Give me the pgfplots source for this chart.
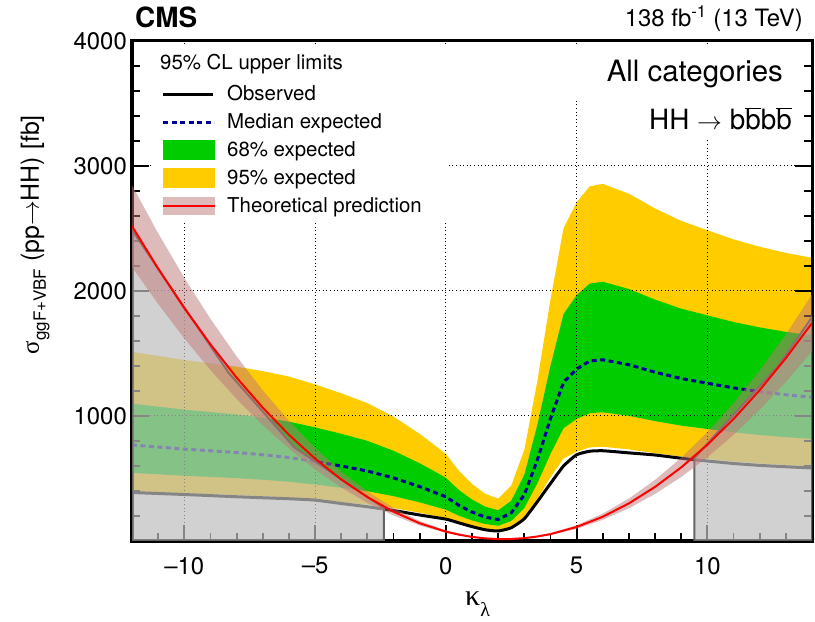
\documentclass[border=0pt]{standalone}
\usepackage{pgfplots}
\pgfplotsset{compat=1.18}
\usepackage{fontspec}
\setmainfont{TeX Gyre Heros}
\newfontfamily\greek{Liberation Serif}
\definecolor{cyellow}{RGB}{255,204,0}
\definecolor{cgreen}{RGB}{0,204,0}
\definecolor{cnavy}{RGB}{0,0,153}
\definecolor{cpink}{RGB}{190,120,120}
\definecolor{cpinkL}{RGB}{222,187,187}
\definecolor{cgray}{RGB}{190,190,190}
\definecolor{cgrayD}{RGB}{100,100,100}
\pgfplotsset{common/.style={
  at={(0,0)}, anchor=south west,
  scale only axis, width=680bp, height=500bp,
  xmin=-12, xmax=14, ymin=0, ymax=4000, clip=true}}
\begin{document}
\begin{tikzpicture}
\path[use as bounding box] (-132bp,-81bp) rectangle (683bp,541bp);
\begin{axis}[common,
  axis on top,
  xtick={-10,-5,0,5,10},
  xticklabels={\textendash10,\textendash5,0,5,10},
  ytick={0,1000,2000,3000,4000},
  yticklabels={,1000,2000,3000,4000},
  xtick pos=left, ytick pos=left,
  tick align=inside,
  major tick length=16bp,
  tick style={draw=black, line width=1.6bp},
  grid=major,
  major grid style={black, line width=1bp, dash pattern=on 1bp off 2.6bp},
  tick label style={font=\fontsize{24}{24}\selectfont},
  xticklabel style={anchor=north, inner sep=0pt, yshift=-16bp},
  yticklabel style={anchor=east, inner sep=0pt, xshift=-5bp},
  scaled y ticks=false,
]
% 95% band
\addplot[fill=cyellow, draw=none] coordinates {
(-12,1513)(-11,1481)(-10,1448)(-9,1422)(-8,1395)(-7,1359)(-6,1316)(-5,1253)(-4,1182)(-3,1103)(-2,995)(-1,857)(-0.5,778)(0,697)(0.5,561)(1,457)(1.5,378)(2,339)(2.5,443)(3,729)(3.5,1281)(4,1931)(4.5,2502)(5,2709)(5.5,2837)(6,2857)(7,2778)(8,2660)(9,2561)(10,2486)(11,2413)(12,2354)(13,2305)(14,2266)
(14,598)(13,608)(12,621)(11,637)(10,656)(9,676)(8,702)(7,733)(6,754)(5.5,749)(5,715)(4.5,660)(4,510)(3.5,338)(3,192)(2.5,117)(2,89)(1.5,100)(1,121)(0.5,148)(0,184)(-0.5,205)(-1,226)(-2,263)(-3,291)(-4,312)(-5,331)(-6,347)(-7,359)(-8,368)(-9,375)(-10,382)(-11,391)(-12,399)
};
% 68% band
\addplot[fill=cgreen, draw=none] coordinates {
(-12,1098)(-11,1075)(-10,1051)(-9,1032)(-8,1012)(-7,987)(-6,955)(-5,909)(-4,858)(-3,801)(-2,722)(-1,622)(-0.5,565)(0,506)(0.5,408)(1,332)(1.5,275)(2,246)(2.5,322)(3,529)(3.5,930)(4,1401)(4.5,1816)(5,1966)(5.5,2059)(6,2074)(7,2016)(8,1931)(9,1859)(10,1805)(11,1752)(12,1709)(13,1673)(14,1645)
(14,817)(13,831)(12,848)(11,870)(10,896)(9,923)(8,959)(7,1001)(6,1030)(5.5,1022)(5,976)(4.5,902)(4,696)(3.5,462)(3,263)(2.5,160)(2,122)(1.5,136)(1,165)(0.5,202)(0,251)(-0.5,280)(-1,309)(-2,359)(-3,398)(-4,426)(-5,452)(-6,474)(-7,490)(-8,503)(-9,513)(-10,522)(-11,534)(-12,545)
};
% median expected
\addplot[cnavy, line width=3bp, dash pattern=on 5bp off 3.5bp] coordinates {
(-12,768)(-11,752)(-10,735)(-9,722)(-8,708)(-7,690)(-6,668)(-5,636)(-4,600)(-3,560)(-2,505)(-1,435)(-0.5,395)(0,354)(0.5,285)(1,232)(1.5,192)(2,172)(2.5,225)(3,370)(3.5,650)(4,980)(4.5,1270)(5,1375)(5.5,1440)(6,1450)(7,1410)(8,1350)(9,1300)(10,1262)(11,1225)(12,1195)(13,1170)(14,1150)
};
% observed
\addplot[black, line width=3bp, smooth, tension=0.3] coordinates {
(-12,388)(-11,380)(-10,372)(-9,363)(-8,354)(-7,346)(-6,338)(-5,327)(-4,300)(-3,274)(-2,244)(-1,208)(0,175)(0.5,145)(1,115)(1.5,90)(2,80)(2.5,106)(3,178)(3.5,315)(4,460)(4.5,600)(5,690)(5.5,718)(6,722)(7,705)(8,688)(9,662)(10,640)(11,620)(12,605)(13,594)(14,584)
};
\end{axis}
% frame and tick marks (inside)
\begin{scope}[line width=1.8bp, black]
\foreach \k in {-11,...,13} \draw ({(\k+12)*26.1538bp},0pt) -- ++(0,8bp);
\foreach \k in {-10,-5,0,5,10} \draw ({(\k+12)*26.1538bp},0pt) -- ++(0,16bp);
\foreach \j in {1,...,19} {\draw (0pt,{\j*25bp}) -- ++(8bp,0); \draw (680bp,{\j*25bp}) -- ++(-8bp,0);}
\foreach \j in {5,10,15} {\draw (0pt,{\j*25bp}) -- ++(17bp,0); \draw (680bp,{\j*25bp}) -- ++(-17bp,0);}
\end{scope}
\draw[black, line width=3bp] (0,0) rectangle (680bp,500bp);
% legend
\fill[white] (20bp,319bp) rectangle (315bp,495bp);
\begin{scope}[every node/.style={anchor=base west, inner sep=0pt, font=\fontsize{20.5}{21}\selectfont}]
\node at (28bp,471bp) {95\% CL upper limits};
\draw[black, line width=3bp] (31bp,446bp) -- (81bp,446bp);
\node at (95bp,440bp) {Observed};
\draw[cnavy, line width=3bp, dash pattern=on 5bp off 3.5bp] (31bp,418bp) -- (82bp,418bp);
\node at (95bp,412bp) {Median expected};
\fill[cgreen] (31bp,381bp) rectangle (83bp,401bp);
\node at (95bp,384bp) {68\% expected};
\fill[cyellow] (31bp,353bp) rectangle (83bp,373bp);
\node at (95bp,356bp) {95\% expected};
\fill[cpinkL] (31bp,326bp) rectangle (83bp,344bp);
\draw[red, line width=2bp] (31bp,335bp) -- (83bp,335bp);
\node at (95bp,328bp) {Theoretical prediction};
\end{scope}
% top right labels
\fill[white] (428bp,441bp) rectangle (660bp,497bp);
\fill[white] (468bp,401bp) rectangle (660bp,441bp);
\node[anchor=base east, inner sep=0pt, font=\fontsize{29.5}{30}\selectfont] at (651bp,459bp) {All categories};
\node[anchor=base east, inner sep=0pt, font=\fontsize{28}{28}\selectfont] at (660bp,411bp) {HH $\rightarrow$ b$\overline{\mbox{b}}$b$\overline{\mbox{b}}$};
% overlay axis: excluded regions and theory
\begin{axis}[common, hide axis]
\addplot[fill=cgray, fill opacity=0.7, draw=cgrayD, line width=2bp] coordinates {
(-12,0)(-12,2488)(-8.3,1344)(-5.8,750)(-2.37,264)(-2.37,0)(-12,0)};
\addplot[fill=cgray, fill opacity=0.7, draw=cgrayD, line width=2bp] coordinates {
(9.5,0)(9.5,664)(12.7,1400)(14,1790)(14,0)(9.5,0)};
\addplot[fill=cpink, fill opacity=0.5, draw=none] coordinates {
(-12,2846)(-11,2462)(-10,2105)(-9,1777)(-8,1477)(-7,1205)(-6,961)(-5,745)(-4,556)(-3,397)(-2,264)(-1,160)(0,85)(1,37)(2,17)(3,26)(4,62)(5,127)(6,219)(7,340)(8,489)(9,666)(10,870)(11,1103)(12,1364)(13,1653)(14,1971)
(14,1517)(13,1273)(12,1050)(11,849)(10,670)(9,512)(8,377)(7,262)(6,169)(5,97)(4,48)(3,20)(2,13)(1,28)(0,65)(-1,124)(-2,204)(-3,305)(-4,428)(-5,573)(-6,740)(-7,927)(-8,1137)(-9,1368)(-10,1621)(-11,1896)(-12,2192)
};
\addplot[red, line width=2bp] coordinates {
(-12,2519)(-11,2179)(-10,1863)(-9,1573)(-8,1307)(-7,1066)(-6,850)(-5,659)(-4,492)(-3,351)(-2,234)(-1,142)(0,75)(0.5,50.7)(1,32.7)(1.5,20.9)(2,15.3)(2.5,15.9)(3,22.8)(3.5,35.8)(4,55)(5,112)(6,194)(7,301)(8,433)(9,589)(10,770)(11,976)(12,1207)(13,1463)(14,1744)
};
\end{axis}
% header
\node[anchor=base west, inner sep=0pt, font=\bfseries\fontsize{28}{28}\selectfont] at (3bp,513bp) {CMS};
\node[anchor=base east, inner sep=0pt, font=\fontsize{24}{24}\selectfont] at (671bp,514bp) {138 fb\textsuperscript{-1} (13 TeV)};
% axis titles
\node[anchor=base west, inner sep=0pt] at (333bp,-64bp) {\greek\fontsize{30}{30}\selectfont κ\raisebox{-11bp}{\fontsize{20}{20}\selectfont λ}};
\node[rotate=90, anchor=base east, inner sep=0pt, font=\fontsize{25}{25}\selectfont] at (-93bp,426bp) {{\greek σ}\raisebox{-7bp}{\fontsize{17}{17}\selectfont ggF+VBF} (pp$\rightarrow$HH) [fb]};
\end{tikzpicture}
\end{document}
